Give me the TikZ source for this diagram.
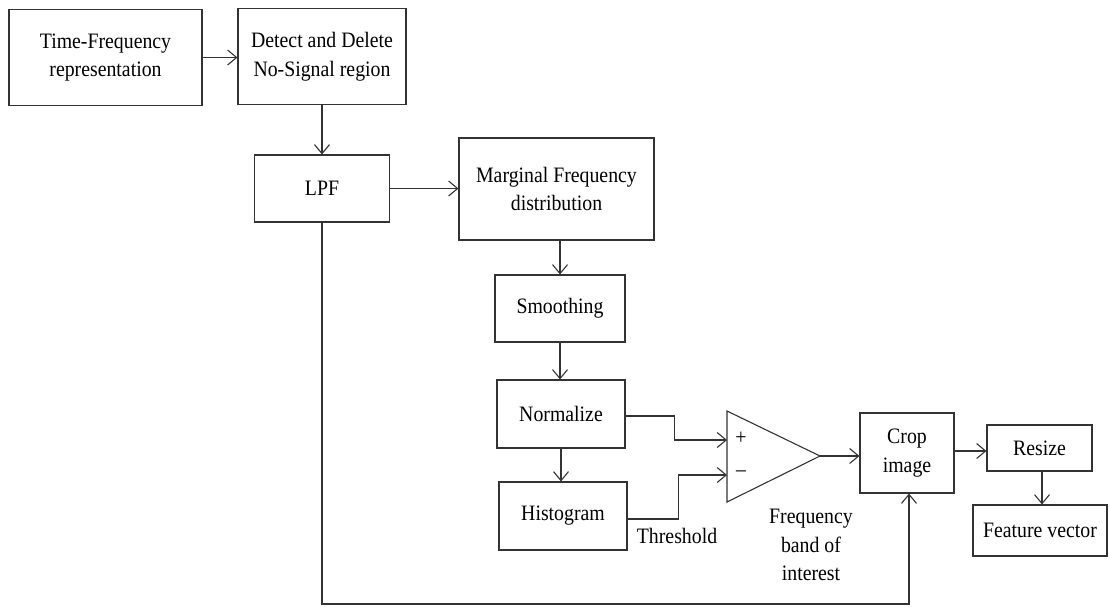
\documentclass[tikz,border=0pt]{standalone}
\usepackage{fontspec}
\setmainfont{Liberation Serif}[FakeStretch=0.9]
\usetikzlibrary{arrows.meta}
\begin{document}
\begin{tikzpicture}[x=1pt,y=-1pt,
  line width=1.1pt, draw=black!80,
  blk/.style={draw, inner sep=0pt, align=center, font=\fontsize{22}{28.5}\selectfont},
  lbl/.style={inner sep=0pt, align=center, font=\fontsize{22}{28.5}\selectfont},
  arr/.style={-{Straight Barb[length=9pt,width=15pt,line width=1.1pt]}},
]
\useasboundingbox (0,0) rectangle (1110,606);
\fill[white] (0,0) rectangle (1110,606);

% processing blocks
\node[blk, minimum width=193, minimum height=96] (tf)   at (105.5,57.5) {Time-Frequency\\representation};
\node[blk, minimum width=168, minimum height=96] (det)  at (322,56.5) {Detect and Delete\\No-Signal region};
\node[blk, minimum width=135, minimum height=67] (lpf)  at (322,188.5) {LPF};
\node[blk, minimum width=195, minimum height=102] (mfd) at (556.5,189) {Marginal Frequency\\distribution};
\node[blk, minimum width=130, minimum height=67] (smo)  at (560,308.5) {Smoothing};
\node[blk, minimum width=128, minimum height=68] (nor)  at (561,414) {Normalize};
\node[blk, minimum width=128, minimum height=68] (his)  at (563,516) {Histogram};
\node[blk, minimum width=94, minimum height=80] (crop)  at (907,453) {Crop\\image};
\node[blk, minimum width=105, minimum height=46] (res)  at (1039.5,448) {Resize};
\node[blk, minimum width=134, minimum height=51] (feat) at (1040,530.5) {Feature vector};

% comparator
\coordinate (ctop) at (727,411);
\coordinate (cbot) at (727,502);
\coordinate (cout) at (820,456);
\coordinate (cplus) at (727,440);
\coordinate (cminus) at (727,475);
\draw (ctop) -- (cout) -- (cbot) -- cycle;
\node[lbl] (plus)  at (741,438) {+};
\node[lbl] (minus) at (741,474) {\textendash};

% labels
\node[lbl] (thr) at (677,536) {Threshold};
\node[lbl] (fbi) at (811,545) {Frequency\\band of\\interest};

% connectors
\draw[arr] (tf.east) -- (det.west |- tf.east);
\draw[arr] (det.south -| lpf.north) -- (lpf.north);
\draw[arr] (lpf.east) -- (mfd.west |- lpf.east);
\draw[arr] (mfd.south -| smo.north) -- (smo.north);
\draw[arr] (smo.south) -- (nor.north -| smo.south);
\draw[arr] (nor.south) -- (his.north -| nor.south);
\draw[arr] ([yshift=-2pt]nor.east) -- ++(49,0) |- (cplus);
\draw[arr] ([yshift=-3pt]his.east) -- ++(51,0) |- (cminus);
\draw[arr] (cout) -- (crop.west |- cout);
\draw[arr] (crop.east |- 0,451) -- (res.west |- 0,451);
\draw[arr] (res.south -| 1042,0) -- (feat.north -| 1042,0);
\draw[arr] (lpf.south) |- (909,604) -- (crop.south -| 909,0);
\end{tikzpicture}
\end{document}
